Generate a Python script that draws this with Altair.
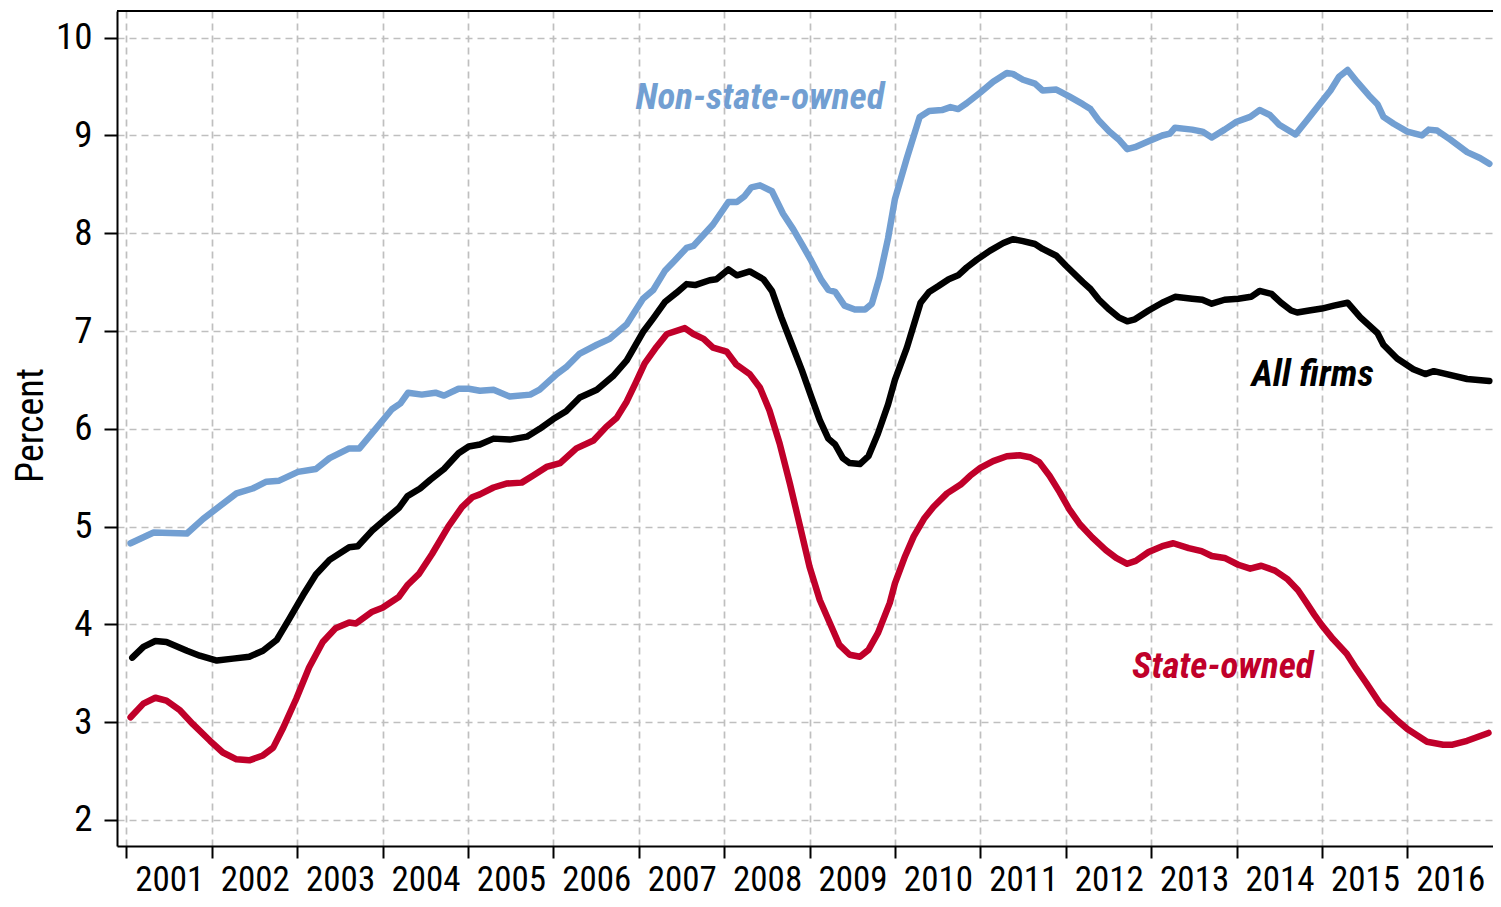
import altair as alt
import pandas as pd

# ---- data (fractional year, percent) ----
non_state_x = [2001.05, 2001.32, 2001.71, 2001.90, 2002.29, 2002.48, 2002.64, 2002.79, 2003.01, 2003.22,
               2003.38, 2003.61, 2003.73, 2003.92, 2004.11, 2004.21, 2004.30, 2004.46, 2004.62, 2004.72,
               2004.89, 2005.01, 2005.14, 2005.30, 2005.49, 2005.73, 2005.84, 2006.04, 2006.15, 2006.31,
               2006.51, 2006.66, 2006.86, 2007.05, 2007.17, 2007.31, 2007.42, 2007.56, 2007.64, 2007.87,
               2008.05, 2008.15, 2008.24, 2008.32, 2008.42, 2008.56, 2008.69, 2008.81, 2008.91, 2009.02,
               2009.14, 2009.22, 2009.30, 2009.41, 2009.53, 2009.65, 2009.73, 2009.82, 2009.92, 2010.00,
               2010.14, 2010.29, 2010.40, 2010.55, 2010.65, 2010.74, 2010.84, 2011.00, 2011.15, 2011.31,
               2011.38, 2011.50, 2011.64, 2011.73, 2011.89, 2012.04, 2012.20, 2012.29, 2012.39, 2012.51,
               2012.62, 2012.72, 2012.81, 2012.97, 2013.13, 2013.22, 2013.28, 2013.48, 2013.60, 2013.71,
               2013.86, 2014.00, 2014.16, 2014.27, 2014.39, 2014.50, 2014.69, 2014.82, 2015.00, 2015.10,
               2015.20, 2015.30, 2015.41, 2015.55, 2015.65, 2015.72, 2015.84, 2016.00, 2016.17, 2016.25,
               2016.35, 2016.50, 2016.70, 2016.85, 2016.96]
non_state_y = [4.83, 4.94, 4.93, 5.08, 5.34, 5.39, 5.46, 5.47, 5.56, 5.59,
               5.70, 5.80, 5.80, 6.00, 6.20, 6.26, 6.37, 6.35, 6.37, 6.34,
               6.41, 6.41, 6.39, 6.40, 6.33, 6.35, 6.40, 6.56, 6.63, 6.77,
               6.86, 6.92, 7.07, 7.33, 7.42, 7.62, 7.72, 7.85, 7.87, 8.09,
               8.32, 8.32, 8.38, 8.47, 8.49, 8.43, 8.20, 8.04, 7.89, 7.72,
               7.52, 7.42, 7.40, 7.26, 7.22, 7.22, 7.28, 7.55, 7.95, 8.35,
               8.77, 9.19, 9.25, 9.26, 9.29, 9.27, 9.33, 9.44, 9.55, 9.64,
               9.63, 9.57, 9.53, 9.46, 9.47, 9.40, 9.32, 9.27, 9.15, 9.04,
               8.96, 8.86, 8.88, 8.94, 9.00, 9.02, 9.08, 9.06, 9.04, 8.98,
               9.06, 9.14, 9.19, 9.26, 9.21, 9.11, 9.01, 9.15, 9.35, 9.46,
               9.60, 9.67, 9.55, 9.41, 9.32, 9.19, 9.12, 9.04, 9.00, 9.06,
               9.05, 8.96, 8.83, 8.77, 8.71]

all_x = [2001.07, 2001.20, 2001.34, 2001.47, 2001.71, 2001.86, 2002.06, 2002.25, 2002.44, 2002.60,
         2002.76, 2002.91, 2003.07, 2003.22, 2003.38, 2003.61, 2003.71, 2003.88, 2004.04, 2004.19,
         2004.29, 2004.44, 2004.56, 2004.72, 2004.89, 2005.01, 2005.14, 2005.30, 2005.49, 2005.69,
         2005.84, 2006.00, 2006.15, 2006.31, 2006.51, 2006.70, 2006.86, 2007.05, 2007.17, 2007.31,
         2007.44, 2007.56, 2007.66, 2007.83, 2007.91, 2008.05, 2008.15, 2008.30, 2008.46, 2008.56,
         2008.67, 2008.79, 2008.91, 2009.02, 2009.12, 2009.22, 2009.30, 2009.39, 2009.47, 2009.59,
         2009.69, 2009.80, 2009.92, 2010.00, 2010.14, 2010.30, 2010.40, 2010.51, 2010.63, 2010.74,
         2010.84, 2010.96, 2011.11, 2011.27, 2011.38, 2011.50, 2011.64, 2011.73, 2011.89, 2012.00,
         2012.20, 2012.29, 2012.39, 2012.51, 2012.62, 2012.72, 2012.81, 2012.97, 2013.13, 2013.28,
         2013.48, 2013.60, 2013.71, 2013.86, 2014.02, 2014.17, 2014.27, 2014.41, 2014.52, 2014.64,
         2014.71, 2014.85, 2015.00, 2015.14, 2015.30, 2015.45, 2015.65, 2015.72, 2015.88, 2016.07,
         2016.21, 2016.31, 2016.46, 2016.70, 2016.96]
all_y = [3.66, 3.77, 3.83, 3.82, 3.73, 3.68, 3.63, 3.65, 3.67, 3.73,
         3.84, 4.06, 4.30, 4.51, 4.66, 4.79, 4.80, 4.96, 5.08, 5.19,
         5.31, 5.39, 5.48, 5.59, 5.75, 5.82, 5.84, 5.90, 5.89, 5.92,
         6.00, 6.10, 6.18, 6.32, 6.40, 6.54, 6.70, 6.99, 7.13, 7.30,
         7.39, 7.48, 7.47, 7.52, 7.53, 7.63, 7.57, 7.61, 7.53, 7.41,
         7.14, 6.87, 6.60, 6.33, 6.09, 5.90, 5.84, 5.70, 5.65, 5.64,
         5.72, 5.95, 6.25, 6.50, 6.83, 7.29, 7.40, 7.46, 7.53, 7.57,
         7.65, 7.73, 7.82, 7.90, 7.94, 7.92, 7.89, 7.84, 7.77, 7.67,
         7.50, 7.43, 7.32, 7.22, 7.14, 7.10, 7.12, 7.21, 7.29, 7.35,
         7.33, 7.32, 7.28, 7.32, 7.33, 7.35, 7.41, 7.38, 7.29, 7.21,
         7.19, 7.21, 7.23, 7.26, 7.29, 7.14, 6.98, 6.86, 6.72, 6.61,
         6.56, 6.59, 6.56, 6.51, 6.49]

state_x = [2001.05, 2001.20, 2001.34, 2001.47, 2001.63, 2001.78, 2001.98, 2002.13, 2002.29, 2002.44,
           2002.60, 2002.72, 2002.83, 2002.99, 2003.14, 2003.30, 2003.45, 2003.61, 2003.69, 2003.88,
           2004.00, 2004.19, 2004.29, 2004.43, 2004.58, 2004.77, 2004.93, 2005.05, 2005.14, 2005.30,
           2005.45, 2005.63, 2005.76, 2005.92, 2006.08, 2006.27, 2006.47, 2006.62, 2006.74, 2006.86,
           2006.97, 2007.07, 2007.21, 2007.33, 2007.54, 2007.64, 2007.76, 2007.87, 2008.03, 2008.14,
           2008.30, 2008.42, 2008.53, 2008.65, 2008.77, 2008.89, 2009.00, 2009.12, 2009.24, 2009.35,
           2009.47, 2009.59, 2009.69, 2009.80, 2009.94, 2010.00, 2010.12, 2010.22, 2010.34, 2010.45,
           2010.61, 2010.77, 2010.88, 2011.00, 2011.15, 2011.31, 2011.46, 2011.58, 2011.69, 2011.81,
           2011.93, 2012.04, 2012.16, 2012.31, 2012.47, 2012.59, 2012.72, 2012.82, 2012.97, 2013.13,
           2013.26, 2013.44, 2013.59, 2013.71, 2013.86, 2014.02, 2014.16, 2014.29, 2014.45, 2014.60,
           2014.72, 2014.82, 2014.91, 2015.00, 2015.13, 2015.29, 2015.40, 2015.52, 2015.68, 2015.88,
           2016.00, 2016.23, 2016.42, 2016.53, 2016.70, 2016.95]
state_y = [3.05, 3.19, 3.25, 3.22, 3.12, 2.98, 2.81, 2.69, 2.62, 2.61,
           2.66, 2.74, 2.93, 3.24, 3.56, 3.82, 3.96, 4.02, 4.01, 4.13,
           4.17, 4.28, 4.40, 4.52, 4.72, 5.00, 5.20, 5.30, 5.33, 5.40,
           5.44, 5.45, 5.52, 5.61, 5.65, 5.80, 5.88, 6.02, 6.11, 6.28,
           6.48, 6.67, 6.84, 6.97, 7.03, 6.97, 6.92, 6.83, 6.79, 6.66,
           6.56, 6.42, 6.19, 5.85, 5.44, 5.00, 4.59, 4.25, 4.01, 3.79,
           3.69, 3.67, 3.74, 3.91, 4.22, 4.42, 4.70, 4.90, 5.08, 5.20,
           5.34, 5.43, 5.52, 5.60, 5.67, 5.72, 5.73, 5.71, 5.66, 5.52,
           5.35, 5.18, 5.03, 4.89, 4.76, 4.68, 4.62, 4.65, 4.74, 4.80,
           4.83, 4.78, 4.75, 4.70, 4.68, 4.61, 4.57, 4.60, 4.55, 4.46,
           4.35, 4.22, 4.10, 3.99, 3.85, 3.70, 3.55, 3.40, 3.19, 3.02,
           2.93, 2.80, 2.77, 2.77, 2.81, 2.89]

series_names = ["Non-state-owned", "All firms", "State-owned"]
series_colors = ["#729fd2", "#000000", "#c0002a"]

year_ticks = list(range(2001, 2017))
percent_ticks = list(range(2, 11))

label_text = ["Non-state-owned", "All firms", "State-owned"]
label_x = [2008.42, 2014.89, 2013.84]
label_y = [9.27, 6.44, 3.45]

# ---- build tables ----
rows = []
for name, xs, ys in zip(series_names, [non_state_x, all_x, state_x], [non_state_y, all_y, state_y]):
    for i, (a, b) in enumerate(zip(xs, ys)):
        rows.append({"series": name, "year": a, "value": b, "order": i})
df = pd.DataFrame(rows)

labels = pd.DataFrame({"text": label_text, "year": label_x, "value": label_y,
                       "series": series_names})

W, H = 1376, 835
FONT = "'Roboto Condensed', 'DejaVu Sans Condensed', sans-serif"

xscale = alt.Scale(domain=[2000.891, 2017.003], nice=False, zero=False)
yscale = alt.Scale(domain=[1.734, 10.273], nice=False, zero=False)
cscale = alt.Scale(domain=series_names, range=series_colors)

xaxis = alt.Axis(values=year_ticks, format="d", title=None, labelOffset=43, labelFlush=False,
                 labelOverlap=False, labelFontSize=35, labelFont=FONT, labelColor="black",
                 labelPadding=4, tickSize=12, tickWidth=2, tickColor="black",
                 domainColor="black", domainWidth=2, grid=True, gridDash=[7, 5],
                 gridColor="#bfbfbf", gridWidth=1.7)
yaxis = alt.Axis(values=percent_ticks, format="d", title="Percent", labelFontSize=37,
                 labelFont=FONT, labelColor="black", labelPadding=12, tickSize=13,
                 tickWidth=2, tickColor="black", domainColor="black", domainWidth=2,
                 grid=True, gridDash=[7, 5], gridColor="#bfbfbf", gridWidth=1.7,
                 titleFont=FONT, titleFontSize=38, titleFontWeight="normal",
                 titleColor="black", titleAngle=-90, titleBaseline="alphabetic",
                 titleAlign="center", titleX=-75, titleY=414)

lines = alt.Chart(df).mark_line(strokeWidth=6.5, strokeJoin="round", strokeCap="round").encode(
    x=alt.X("year:Q", scale=xscale, axis=xaxis),
    y=alt.Y("value:Q", scale=yscale, axis=yaxis),
    color=alt.Color("series:N", scale=cscale, legend=None),
    detail="series:N",
    order="order:Q",
)

texts = alt.Chart(labels).mark_text(font=FONT, fontSize=37, fontWeight="bold",
                                    fontStyle="italic", align="center",
                                    baseline="alphabetic").encode(
    x=alt.X("year:Q", scale=xscale),
    y=alt.Y("value:Q", scale=yscale),
    text="text:N",
    color=alt.Color("series:N", scale=cscale, legend=None),
)

top_border = alt.Chart(pd.DataFrame({"a": [0]})).mark_rule(color="black", strokeWidth=2).encode(
    x=alt.value(0), x2=alt.value(W), y=alt.value(0)
)

chart = alt.layer(lines, texts, top_border).properties(
    width=W, height=H,
    padding={"left": 109, "top": 3, "right": 0, "bottom": 53},
    autosize="none",
).configure_view(stroke=None)

chart.save("out.html", embed_options={"renderer": "svg", "actions": False})
